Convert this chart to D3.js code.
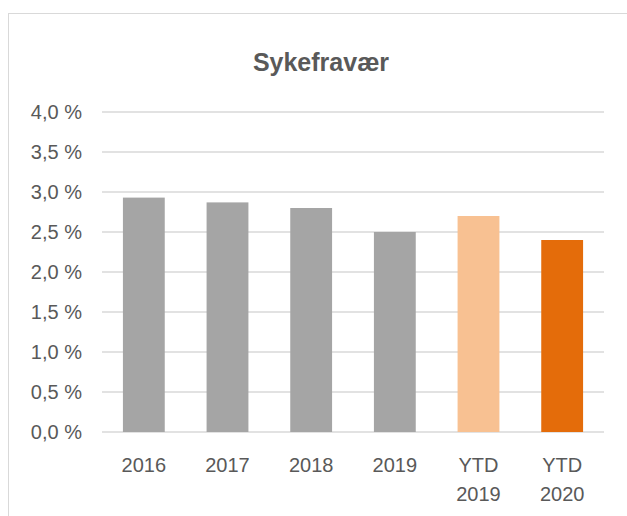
<!DOCTYPE html>
<html>
<head>
<meta charset="utf-8">
<script src="https://cdn.jsdelivr.net/npm/d3@7"></script>
<style>
  body { margin: 0; background: #fff; }
  text { font-family: "Liberation Sans", Arial, sans-serif; fill: #595959; }
</style>
</head>
<body>
<svg id="chart" width="627" height="516"></svg>
<script>
var categories = [['2016'], ['2017'], ['2018'], ['2019'], ['YTD', '2019'], ['YTD', '2020']];
var values = [2.93, 2.87, 2.80, 2.50, 2.70, 2.40];
var barColors = ['#a5a5a5', '#a5a5a5', '#a5a5a5', '#a5a5a5', '#f8c192', '#e46c0a'];
var yTicks = [0, 0.5, 1, 1.5, 2, 2.5, 3, 3.5, 4];
var title = 'Sykefravær';

var svg = d3.select('#chart');

// chart frame (only left/top edges show in the window)
svg.append('rect')
    .attr('x', 8.5)
    .attr('y', 13.5)
    .attr('width', 700)
    .attr('height', 600)
    .attr('fill', 'none')
    .attr('stroke', '#d9d9d9')
    .attr('stroke-width', 1);

svg.append('text')
    .attr('x', 321)
    .attr('y', 70.5)
    .attr('text-anchor', 'middle')
    .style('font-size', '25px')
    .style('font-weight', 'bold')
    .text(title);

var x = d3.scaleBand()
    .domain(d3.range(categories.length))
    .range([102, 604])
    .paddingInner(0.5)
    .paddingOuter(0.25);

var y = d3.scaleLinear()
    .domain([0, 4])
    .range([432, 112]);

var fmt = d => d.toFixed(1).replace('.', ',') + '\u00a0%';

// gridlines
svg.append('g')
    .selectAll('line')
    .data(yTicks)
    .enter().append('line')
    .attr('x1', 102)
    .attr('x2', 604)
    .attr('y1', d => y(d))
    .attr('y2', d => y(d))
    .attr('stroke', '#d9d9d9')
    .attr('stroke-width', 1.5);

// y labels
svg.append('g')
    .selectAll('text')
    .data(yTicks)
    .enter().append('text')
    .attr('x', 82)
    .attr('y', d => y(d) + 7)
    .attr('text-anchor', 'end')
    .style('font-size', '20px')
    .text(fmt);

// bars
svg.append('g')
    .selectAll('rect')
    .data(values)
    .enter().append('rect')
    .attr('x', (d, i) => x(i))
    .attr('width', x.bandwidth())
    .attr('y', d => y(d))
    .attr('height', d => y(0) - y(d))
    .attr('fill', (d, i) => barColors[i]);

// x labels
var xl = svg.append('g')
    .selectAll('text')
    .data(categories)
    .enter().append('text')
    .attr('x', (d, i) => x(i) + x.bandwidth() / 2)
    .attr('y', 471.5)
    .attr('text-anchor', 'middle')
    .style('font-size', '20px');
xl.selectAll('tspan')
    .data(d => d)
    .enter().append('tspan')
    .attr('x', function () { return d3.select(this.parentNode).attr('x'); })
    .attr('dy', (d, i) => i == 0 ? 0 : 29)
    .text(d => d);
</script>
</body>
</html>
